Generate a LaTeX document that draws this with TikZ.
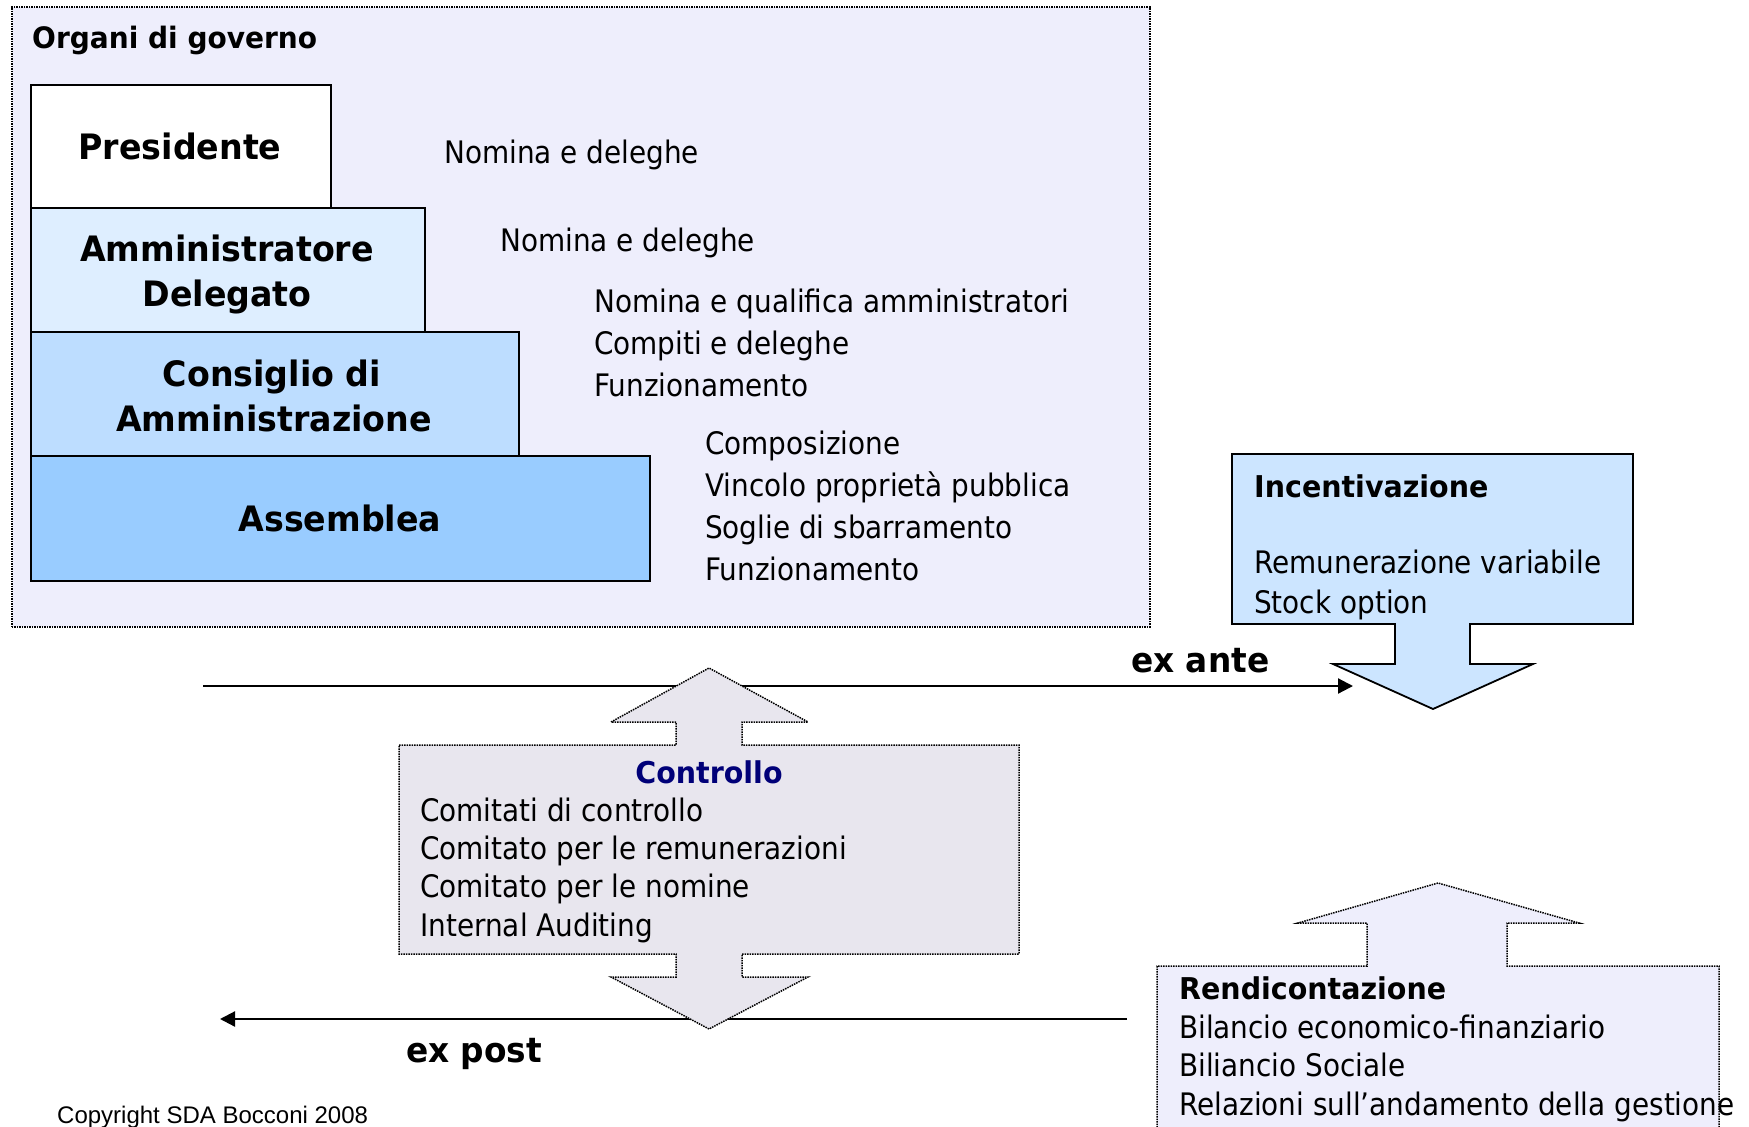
\documentclass[tikz,border=0pt]{standalone}
\usepackage{fontspec}
\setmainfont[FakeStretch=0.9]{DejaVu Sans}
\newfontfamily\hdfont[FakeStretch=0.95]{DejaVu Sans}
\newfontfamily\copyfont{Liberation Sans}
\usetikzlibrary{arrows.meta}
\definecolor{orgfill}{RGB}{238,238,252}
\definecolor{ammfill}{RGB}{222,238,255}
\definecolor{consfill}{RGB}{189,221,255}
\definecolor{assfill}{RGB}{153,204,255}
\definecolor{incfill}{RGB}{204,229,255}
\definecolor{ctrlfill}{RGB}{232,230,238}
\definecolor{rendfill}{RGB}{238,238,252}
\definecolor{navy}{RGB}{0,0,120}
\tikzset{
  solidbox/.style={draw=black, line width=1.8pt, inner sep=0pt, anchor=north west},
  dotline/.style={draw=black, line width=1.5pt, densely dotted},
  reg/.style={font=\fontsize{31}{37}\selectfont, inner sep=0pt, anchor=base west},
  hd/.style={font=\hdfont\bfseries\fontsize{30}{36}\selectfont, inner sep=0pt, anchor=base west},
  boxlbl/.style={font=\hdfont\bfseries\fontsize{35}{42}\selectfont, inner sep=0pt, anchor=base},
  timelbl/.style={font=\hdfont\bfseries\fontsize{34.5}{40}\selectfont, inner sep=0pt, anchor=base west},
  flow/.style={draw=black, line width=2.2pt, -{Triangle[length=15pt,width=15pt]}},
}
\begin{document}
\begin{tikzpicture}[x=1pt,y=-1pt]
\clip (0,0) rectangle (1749,1127);
\fill[white] (0,0) rectangle (1749,1127);

% outer box
\node[dotline, fill=orgfill, inner sep=0pt, anchor=north west, minimum width=1138pt, minimum height=620pt] (organi) at (11,6) {};
\node[hd, font=\hdfont\bfseries\fontsize{29.5}{35}\selectfont] (organit) at (32,48) {Organi di governo};

% stacked boxes
\node[solidbox, fill=white, minimum width=300pt, minimum height=123pt] (pres) at (30,84) {};
\node[solidbox, fill=ammfill, minimum width=394pt, minimum height=124pt] (amm) at (30,207) {};
\node[solidbox, fill=consfill, minimum width=488pt, minimum height=124pt] (cons) at (30,331) {};
\node[solidbox, fill=assfill, minimum width=619pt, minimum height=125pt] (ass) at (30,455) {};

\node[boxlbl] (prest) at (180,159) {Presidente};
\node[boxlbl] (ammt1) at (227,261) {Amministratore};
\node[boxlbl] (ammt2) at (227,306) {Delegato};
\node[boxlbl] (const1) at (272,386) {Consiglio di};
\node[boxlbl] (const2) at (274,431) {Amministrazione};
\node[boxlbl] (asst) at (340,531) {Assemblea};

% descriptions
\node[reg] (d1) at (444,163) {Nomina e deleghe};
\node[reg] (d2) at (500,251) {Nomina e deleghe};
\node[reg] (d3a) at (594,312) {Nomina e qualifica amministratori};
\node[reg] (d3b) at (594,354) {Compiti e deleghe};
\node[reg] (d3c) at (594,396) {Funzionamento};
\node[reg] (d4a) at (705,454) {Composizione};
\node[reg] (d4b) at (705,496) {Vincolo proprietà pubblica};
\node[reg] (d4c) at (705,538) {Soglie di sbarramento};
\node[reg] (d4d) at (705,580) {Funzionamento};

% Incentivazione
\draw[line width=1.8pt, fill=incfill] (1232,454) -- (1633,454) -- (1633,624) -- (1470,624) -- (1470,664) -- (1533,664) -- (1433,709) -- (1333,664) -- (1395,664) -- (1395,624) -- (1232,624) -- cycle;
\node[hd] (inct) at (1254,497) {Incentivazione};
\node[reg] (inc1) at (1254,573) {Remunerazione variabile};
\node[reg] (inc2) at (1254,613) {Stock option};

% time lines
\coordinate (anteS) at (203,686);
\coordinate (anteE) at (1353,686);
\draw[flow] (anteS) -- (anteE);
\node[timelbl] (antet) at (1131,672) {ex ante};

\coordinate (postS) at (1127,1019);
\coordinate (postE) at (220,1019);
\draw[flow] (postS) -- (postE);
\node[timelbl] (postt) at (406,1062) {ex post};

% Controllo
\path[dotline, fill=ctrlfill] (399,745) -- (676,745) -- (676,722) -- (611,722) -- (709,668) -- (808,722) -- (742,722) -- (742,745) -- (1019,745) -- (1019,954) -- (742,954) -- (742,977) -- (808,977) -- (709,1029) -- (611,977) -- (676,977) -- (676,954) -- (399,954) -- cycle;
\node[hd, anchor=base, text=navy] (ctrlt) at (709,783) {Controllo};
\node[reg] (c1) at (420,821) {Comitati di controllo};
\node[reg] (c2) at (420,859) {Comitato per le remunerazioni};
\node[reg] (c3) at (420,897) {Comitato per le nomine};
\node[reg] (c4) at (420,936) {Internal Auditing};

% Rendicontazione
\path[dotline, fill=rendfill] (1157,1140) -- (1157,966) -- (1367,966) -- (1367,923) -- (1298,923) -- (1438,883) -- (1579,923) -- (1507,923) -- (1507,966) -- (1719,966) -- (1719,1140) -- cycle;
\node[hd] (rendt) at (1179,999) {Rendicontazione};
\node[reg] (r1) at (1179,1038) {Bilancio economico-finanziario};
\node[reg] (r2) at (1179,1076) {Biliancio Sociale};
\node[reg] (r3) at (1179,1115) {Relazioni sull’andamento della gestione};

% copyright
\node[inner sep=0pt, anchor=base west, font=\copyfont\fontsize{24}{28}\selectfont] (copy) at (57,1123) {Copyright SDA Bocconi 2008};
\end{tikzpicture}
\end{document}
